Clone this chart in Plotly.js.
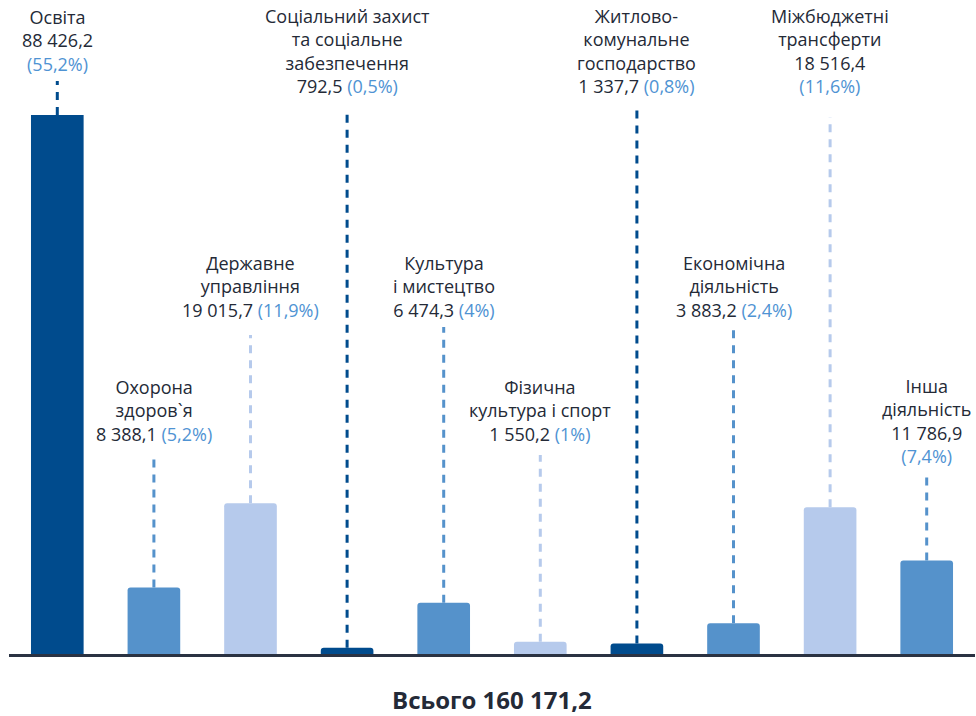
<!DOCTYPE html>
<html>
<head>
<meta charset="utf-8">
<script src="https://cdn.plot.ly/plotly-3.0.1.min.js"></script>
<style>html,body{margin:0;padding:0;background:#fff;}#chart{width:976px;height:716px;}</style>
</head>
<body>
<div id="chart"></div>
<script>
// ---- data ----
const categories = ['Освіта', 'Охорона здоров`я', 'Державне управління', 'Соціальний захист та соціальне забезпечення', 'Культура і мистецтво', 'Фізична культура і спорт', 'Житлово-комунальне господарство', 'Економічна діяльність', 'Міжбюджетні трансферти', 'Інша діяльність'];
const values = [88426.2, 8388.1, 19015.7, 792.5, 6474.3, 1550.2, 1337.7, 3883.2, 18516.4, 11786.9];
const shares = [55.2, 5.2, 11.9, 0.5, 4, 1, 0.8, 2.4, 11.6, 7.4];
const nameLines = [['Освіта'], ['Охорона', 'здоров`я'], ['Державне', 'управління'], ['Соціальний захист', 'та соціальне', 'забезпечення'], ['Культура', 'і мистецтво'], ['Фізична', 'культура і спорт'], ['Житлово-', 'комунальне', 'господарство'], ['Економічна', 'діяльність'], ['Міжбюджетні', 'трансферти'], ['Інша', 'діяльність']];
const total = 160171.2;
const totalLabel = 'Всього';

// ---- layout / style ----
const W = 976, H = 716;
const mL = 9, mR = 1, mT = 115, mB = 62;
const plotH = H - mT - mB;
const yMax = 68000;
const dark = '#004b8d', mid = '#5592cb', light = '#b6caec';
const barColors = [dark, mid, light, dark, mid, light, dark, mid, light, mid];
const pctColor = '#4f93d3';
const textColor = '#242a37';
const fontFam = '"Open Sans", "Noto Sans", sans-serif';
const fontSize = 18;
const refStep = 21.3;               // line pitch in the reference
const step = 1.3 * fontSize;        // Plotly's line pitch
const firstBaseline = [26, 396.5, 272, 26, 272, 396.5, 26, 272, 26, 396.5];
const pctOwnLine = [true, false, false, false, false, false, false, false, true, true];
const dashTop = [81, 453, 335, 108, 327, 455, 105, 328, 117, 475];
const titleSize = 24;
const titleBaseline = 708.5;

function fmt(v) {
  const parts = v.toFixed(1).split('.');
  return parts[0].replace(/\B(?=(\d{3})+(?!\d))/g, ' ') + ',' + parts[1];
}
function fmtPct(p) { return String(p).replace('.', ','); }
function pxToPaper(py) { return (H - mB - py) / plotH; }

const annotations = [];
const shapes = [];
const asc = 1.069, desc = 0.293;
categories.forEach((c, i) => {
  const lines = nameLines[i].slice();
  const pct = '<span style="color:' + pctColor + '">(' + fmtPct(shares[i]) + '%)</span>';
  if (pctOwnLine[i]) { lines.push(fmt(values[i])); lines.push(pct); }
  else { lines.push(fmt(values[i]) + ' ' + pct); }
  const n = lines.length;
  const b1 = firstBaseline[i] + (n - 1) * (refStep - step) / 2;
  const top = b1 - asc * fontSize;
  const h = (asc + desc) * fontSize + (n - 1) * step;
  annotations.push({
    x: c, xref: 'x', y: pxToPaper(top + h / 2), yref: 'paper',
    text: lines.join('<br>'), showarrow: false, xanchor: 'center', yanchor: 'middle', align: 'center',
    font: {family: fontFam, size: fontSize, color: textColor}
  });
  shapes.push({
    type: 'line', xref: 'x', yref: 'paper',
    x0: c, x1: c,
    y0: Math.min(values[i], yMax) / yMax, y1: pxToPaper(dashTop[i]),
    line: {color: barColors[i], width: 3, dash: '8px,7px'},
    layer: 'below'
  });
});

annotations.push({
  x: 0.5, xref: 'paper',
  y: pxToPaper(titleBaseline - asc * titleSize + (asc + desc) * titleSize / 2), yref: 'paper',
  text: totalLabel + ' ' + fmt(total), showarrow: false,
  xanchor: 'center', yanchor: 'middle',
  font: {family: fontFam, size: titleSize, color: textColor, weight: 700}
});

const trace = {
  type: 'bar', x: categories, y: values,
  marker: {color: barColors, cornerradius: 3, line: {width: 0}},
  hoverinfo: 'skip'
};

const layout = {
  width: W, height: H,
  margin: {l: mL, r: mR, t: mT, b: mB, pad: 0},
  paper_bgcolor: '#ffffff', plot_bgcolor: '#ffffff',
  bargap: 0.455,
  showlegend: false,
  xaxis: {type: 'category', showticklabels: false, ticks: '', showgrid: false, zeroline: false,
          showline: true, linewidth: 3, linecolor: '#2a3242', fixedrange: true},
  yaxis: {range: [0, yMax], visible: false, showgrid: false, zeroline: false, fixedrange: true},
  annotations: annotations,
  shapes: shapes
};

Plotly.newPlot('chart', [trace], layout, {displayModeBar: false, staticPlot: true});
</script>
</body>
</html>
